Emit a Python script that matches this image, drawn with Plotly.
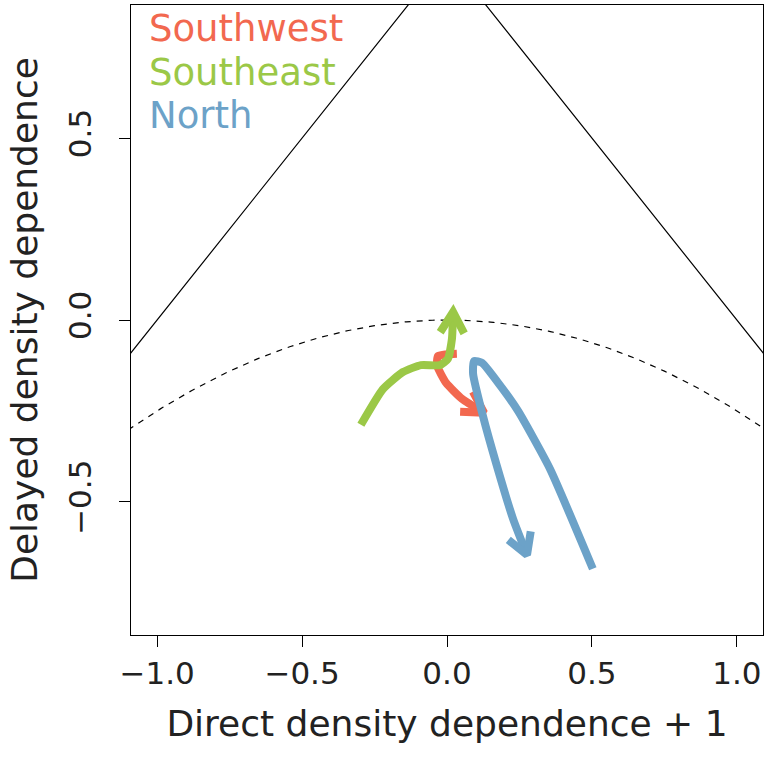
import numpy as np
import plotly.graph_objects as go

# Trajectories in (direct + 1, delayed) density-dependence space
sw_x = [0.034, -0.031, -0.034, -0.003, 0.052, 0.128]
sw_y = [-0.093, -0.099, -0.126, -0.173, -0.217, -0.255]

se_x = [-0.297, -0.221, -0.152, -0.090, -0.024, 0.003, 0.017, 0.021]
se_y = [-0.288, -0.190, -0.143, -0.124, -0.124, -0.107, -0.052, 0.022]

no_x = [0.503, 0.355, 0.245, 0.172, 0.121, 0.093, 0.090, 0.124, 0.172, 0.228, 0.276]
no_y = [-0.684, -0.409, -0.250, -0.168, -0.118, -0.113, -0.148, -0.264, -0.401, -0.547, -0.646]

series = [
    ("Southwest", sw_x, sw_y, "#F2684F"),
    ("Southeast", se_x, se_y, "#9BC847"),
    ("North", no_x, no_y, "#6CA2C8"),
]

tick_vals = [-1.0, -0.5, 0.0, 0.5, 1.0]
y_tick_vals = [-0.5, 0.0, 0.5]

W, H = 771, 758
M = dict(l=131, r=8, t=5, b=123)
XR = [-1.09, 1.09]
YR = [-0.866, 0.866]
sx = (W - M["l"] - M["r"]) / (XR[1] - XR[0])
sy = (H - M["t"] - M["b"]) / (YR[1] - YR[0])

fig = go.Figure()

# Stability triangle sides and the real/complex eigenvalue boundary
tx = np.array([-2.0, 0.0, 2.0])
fig.add_trace(go.Scatter(x=tx, y=1 - np.abs(tx), mode="lines",
                         line=dict(color="black", width=1.2), hoverinfo="skip"))
px_ = np.linspace(-1.2, 1.2, 241)
fig.add_trace(go.Scatter(x=px_, y=-px_ ** 2 / 4, mode="lines",
                         line=dict(color="black", width=1.2, dash="6px,6px"),
                         hoverinfo="skip"))


def head(xs, ys, length=24, ang=np.deg2rad(30)):
    # open V arrowhead on the last segment, built in screen units
    dx = (xs[-1] - xs[-2]) * sx
    dy = (ys[-1] - ys[-2]) * sy
    th = np.arctan2(dy, dx)
    hx, hy = [], []
    for s in (1, -1):
        a = th + np.pi + s * ang
        hx.append(xs[-1] + length * np.cos(a) / sx)
        hy.append(ys[-1] + length * np.sin(a) / sy)
    return [hx[0], xs[-1], hx[1]], [hy[0], ys[-1], hy[1]]


for name, xs, ys, col in series:
    fig.add_trace(go.Scatter(x=xs, y=ys, mode="lines",
                             line=dict(color=col, width=8, shape="spline", smoothing=0.5),
                             hoverinfo="skip"))
    ax_, ay_ = head(xs, ys)
    fig.add_trace(go.Scatter(x=ax_, y=ay_, mode="lines",
                             line=dict(color=col, width=8), hoverinfo="skip"))

for i, (name, xs, ys, col) in enumerate(series):
    fig.add_annotation(x=0.025, y=0.962 - i * 0.069, xref="paper", yref="paper",
                       text=name, showarrow=False, xanchor="left", yanchor="middle",
                       font=dict(size=37, color=col))

axis_font = dict(family="DejaVu Sans", size=31, color="#222")
title_font = dict(family="DejaVu Sans", size=36, color="#222")
fig.update_xaxes(range=XR, tickvals=tick_vals, tickformat=".1f",
                 ticks="outside", ticklen=11, tickwidth=1, tickcolor="black",
                 showline=True, mirror=True, linecolor="black", linewidth=1,
                 showgrid=False, zeroline=False, tickfont=axis_font,
                 title=dict(text="Direct density dependence + 1",
                            font=title_font, standoff=20))
fig.update_yaxes(range=YR, tickvals=y_tick_vals, tickformat=".1f",
                 ticks="outside", ticklen=11, tickwidth=1, tickcolor="black",
                 tickangle=-90, ticklabelstandoff=16,
                 showline=True, mirror=True, linecolor="black", linewidth=1,
                 showgrid=False, zeroline=False, tickfont=axis_font,
                 title=dict(text="Delayed density dependence",
                            font=title_font, standoff=12))

fig.update_layout(width=W, height=H, margin=M, showlegend=False,
                  plot_bgcolor="white", paper_bgcolor="white",
                  font=dict(family="DejaVu Sans"))

fig.write_html("out.html")
